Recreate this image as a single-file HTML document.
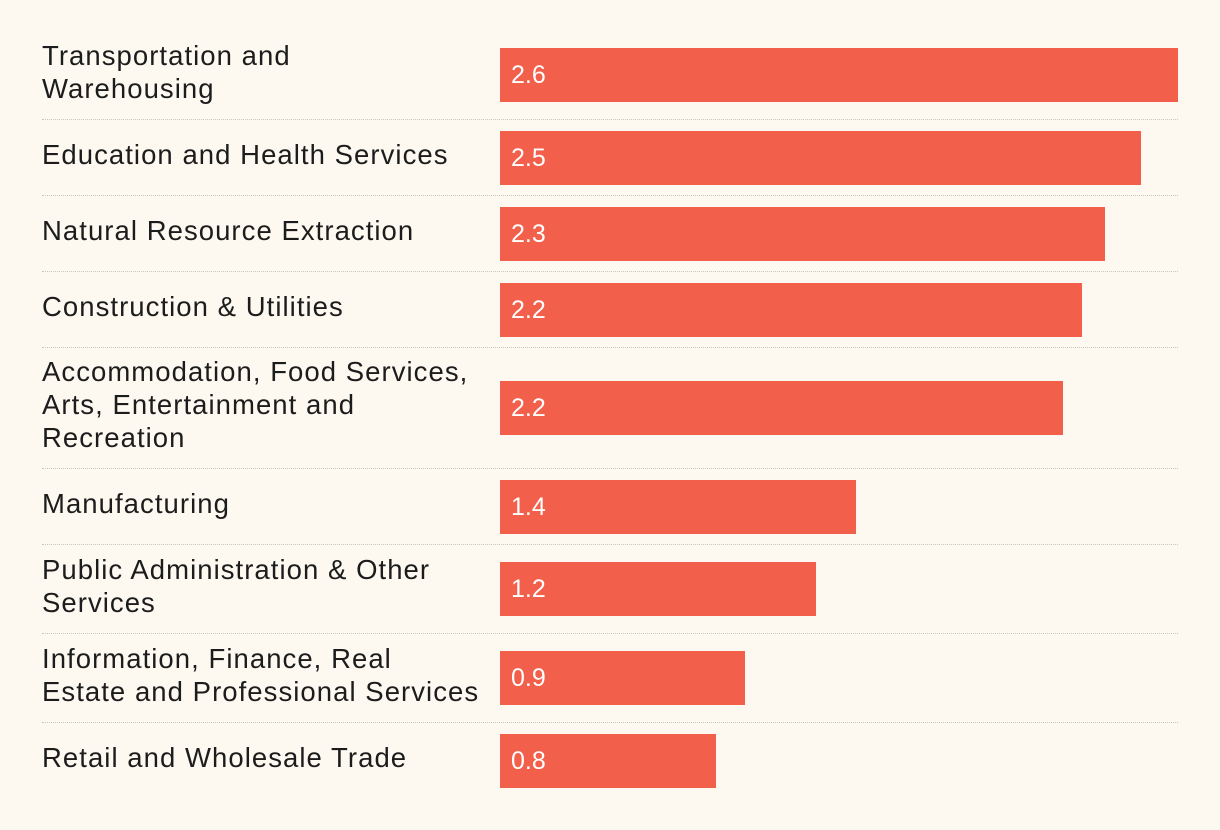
<!DOCTYPE html>
<html><head><meta charset="utf-8">
<style>
html,body{margin:0;padding:0;background:#fdf9f1;}
#chart{position:relative;width:1220px;height:830px;background:#fdf9f1;font-family:"Liberation Sans",sans-serif;overflow:hidden;}
.row{position:absolute;left:42px;width:1136px;}
.sep{position:absolute;left:42px;width:1136px;border-top:1.5px dotted #c9c5be;height:0;}
.lab{position:absolute;left:0;width:456px;font-size:27.5px;letter-spacing:1.05px;line-height:33px;color:#1c1c1c;white-space:nowrap;}
.bar{position:absolute;left:458px;height:54px;background:#f25f4a;}
.val{position:absolute;left:11px;top:0;line-height:54px;font-size:25px;color:#fff;}
</style></head><body>
<div id="chart"></div>
<script>
const categories=[["Transportation and","Warehousing"],["Education and Health Services"],["Natural Resource Extraction"],["Construction & Utilities"],["Accommodation, Food Services,","Arts, Entertainment and","Recreation"],["Manufacturing"],["Public Administration & Other","Services"],["Information, Finance, Real","Estate and Professional Services"],["Retail and Wholesale Trade"]];
const values=[2.6,2.46,2.32,2.23,2.16,1.365,1.21,0.94,0.83];
const maxValue=2.6;
const chart=document.getElementById('chart');
const barMax=678;
function xScale(v){return v/maxValue*barMax;}
let y=31;
categories.forEach((lines,i)=>{
  const h=lines.length===1?76:(lines.length===2?89:121);
  const row=document.createElement('div');
  row.className='row';row.style.top=y+'px';row.style.height=h+'px';
  
  
  const lab=document.createElement('div');
  lab.className='lab';
  lab.style.top=((h-lines.length*33)/2-4)+'px';
  lab.innerHTML=lines.join('<br>');
  
  
  row.appendChild(lab);
  const bar=document.createElement('div');
  bar.className='bar';
  bar.style.top=Math.floor((h-54)/2)+'px';
  bar.style.width=xScale(values[i])+'px';
  
  
  const val=document.createElement('span');
  val.className='val';val.textContent=values[i].toFixed(1);
  
  
  bar.appendChild(val);
  row.appendChild(bar);
  chart.appendChild(row);
  y+=h;
  if(i<categories.length-1){
    const s=document.createElement('div');
    s.className='sep';s.style.top=(y-1)+'px';
    
    
    chart.appendChild(s);
  }
});
</script>
</body></html>
